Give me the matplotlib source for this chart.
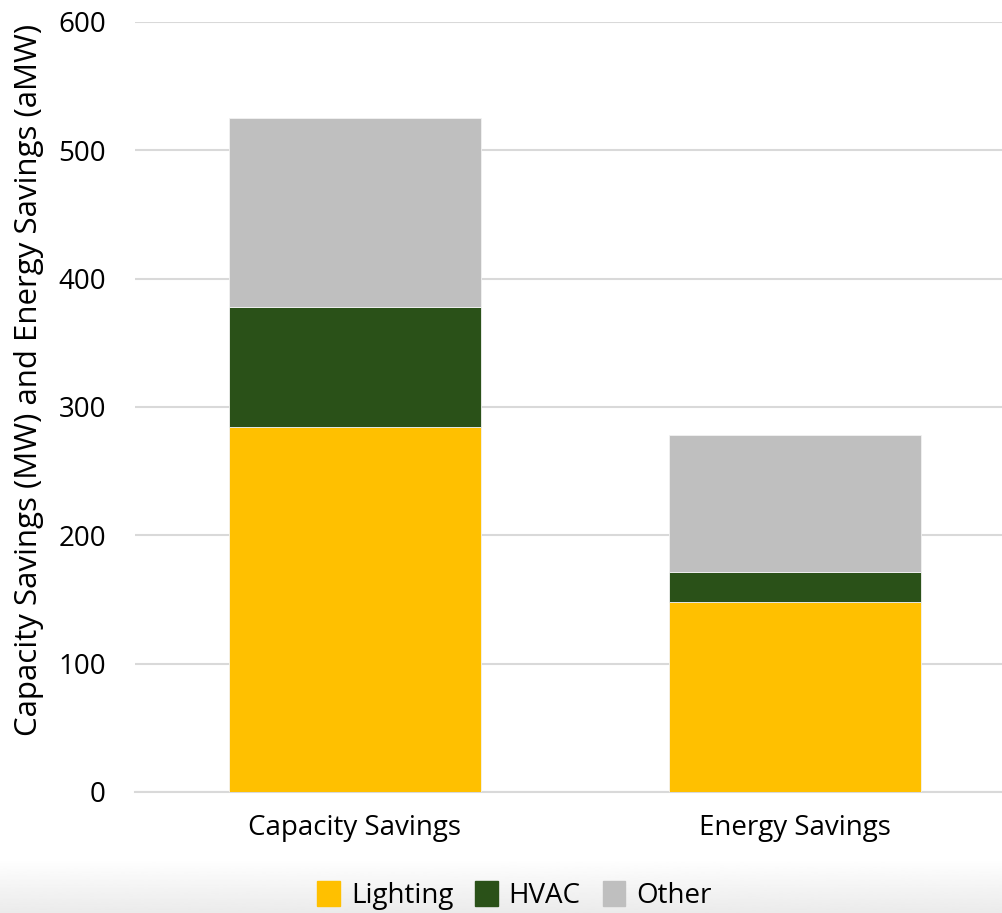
import numpy as np
import matplotlib.pyplot as plt
from matplotlib.patches import Patch

plt.rcParams['font.family'] = ['Open Sans', 'DejaVu Sans']

categories = ["Capacity Savings", "Energy Savings"]
lighting = [284, 148]
hvac = [94, 23]
other = [147, 107]

colors = {"Lighting": "#ffc000", "HVAC": "#2a5118", "Other": "#bfbfbf"}

fig = plt.figure(figsize=(10.03, 9.13), dpi=100)

# soft grey fade behind the legend strip
bg = fig.add_axes([0, 0, 1, 0.06], zorder=-5)
grad = np.linspace(0.92, 1.0, 64).reshape(-1, 1)
bg.imshow(grad, cmap="gray", vmin=0, vmax=1, aspect="auto", origin="lower",
          extent=[0, 1, 0, 1])
bg.axis("off")

ax = fig.add_axes([0.1346, 0.1326, 0.877, 0.8434])
x = np.arange(len(categories))
w = 0.573
bottom = np.zeros(len(categories))
for name, vals in [("Lighting", lighting), ("HVAC", hvac), ("Other", other)]:
    ax.bar(x, vals, w, bottom=bottom, color=colors[name], edgecolor="#f2f2f2",
           linewidth=0.6, label=name, zorder=3)
    bottom += np.array(vals)

ax.set_xlim(-0.5, 1.5)
ax.set_ylim(0, 600)
ax.set_yticks(range(0, 601, 100))
ax.set_xticks(x)
ax.set_xticklabels(categories)
ax.tick_params(axis="both", length=0, labelsize=20, colors="black")
ax.tick_params(axis="y", pad=21)
ax.tick_params(axis="x", pad=16)
ax.yaxis.grid(True, color="#d9d9d9", linewidth=1.5, zorder=0)
for s in ["top", "right", "left"]:
    ax.spines[s].set_visible(False)
ax.spines["bottom"].set_color("#d9d9d9")
ax.spines["bottom"].set_linewidth(1.5)
ax.set_ylabel("Capacity Savings (MW) and Energy Savings (aMW)", fontsize=22.5,
              labelpad=12)
ax.yaxis.set_label_coords(-0.104, 0.535)
ax.set_facecolor("none")

handles = [Patch(color=colors[n]) for n in ["Lighting", "HVAC", "Other"]]
fig.legend(handles, ["Lighting", "HVAC", "Other"], loc="center",
           bbox_to_anchor=(0.513, 0.019), ncol=3, frameon=False, fontsize=20,
           handlelength=0.8, handleheight=1.0, handletextpad=0.4,
           columnspacing=0.8)

fig.savefig("out.png", dpi=100)
